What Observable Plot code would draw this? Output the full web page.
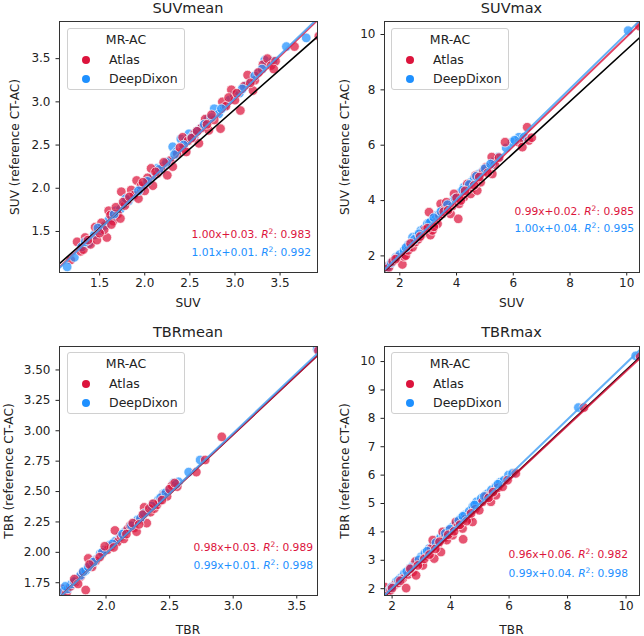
<!DOCTYPE html>
<html><head><meta charset="utf-8">
<script src="https://cdn.jsdelivr.net/npm/d3@7"></script>
<script src="https://cdn.jsdelivr.net/npm/@observablehq/plot@0.6"></script>
<style>
body{margin:0;background:#fff;font-family:"DejaVu Sans",sans-serif;}
#fig{position:relative;width:644px;height:636px;overflow:hidden;}
.panel{position:absolute;width:322px;height:318px;}
.ov{position:absolute;white-space:nowrap;color:#222;line-height:1;}
.title{font-size:14.5px;transform:translate(-50%,-50%);}
.xl{font-size:12.2px;transform:translate(-50%,-50%);}
.yl{font-size:12.2px;transform:translate(-50%,-50%) rotate(-90deg);}
.legend{position:absolute;width:118px;height:62px;border:1px solid #d0d0d0;border-radius:3px;background:rgba(255,255,255,0.85);box-sizing:border-box;font-size:12.5px;color:#222;}
.legend .lt{position:absolute;left:0;right:0;top:10.5px;text-align:center;transform:translateY(-50%);line-height:1;}
.legend .sw{position:absolute;left:14px;width:8px;height:8px;border-radius:50%;transform:translateY(-50%);}
.legend .lab{position:absolute;left:41px;transform:translateY(-50%);line-height:1;}
.ann{position:absolute;font-size:10.7px;white-space:nowrap;line-height:1;transform:translate(-100%,-50%);}
.ann .sup{font-size:7.5px;position:relative;top:-4px;}
</style></head><body><div id="fig"></div><script>
// ---- data ----
const panelTitles = ["SUVmean", "SUVmax", "TBRmean", "TBRmax"];
const xLabels = ["SUV", "SUV", "TBR", "TBR"];
const yLabels = ["SUV (reference CT-AC)", "SUV (reference CT-AC)", "TBR (reference CT-AC)", "TBR (reference CT-AC)"];
const methods = ["Atlas", "DeepDixon"];
const legendTitle = "MR-AC";

const xDomains = [[1.055, 3.915], [1.46, 10.45], [1.634, 3.663], [1.74, 10.46]];
const yDomains = [[1.025, 3.93], [1.40, 10.47], [1.645, 3.693], [1.76, 10.53]];
const xTicks = [[1.5, 2.0, 2.5, 3.0, 3.5], [2, 4, 6, 8, 10], [2.0, 2.5, 3.0, 3.5], [2, 4, 6, 8, 10]];
const yTicks = [[1.5, 2.0, 2.5, 3.0, 3.5], [2, 4, 6, 8, 10], [1.75, 2.0, 2.25, 2.5, 2.75, 3.0, 3.25, 3.5], [2, 3, 4, 5, 6, 7, 8, 9, 10]];
const tickFormats = [".1f", "d", ".1f", "d"];
const yTickFormats = [".1f", "d", ".2f", "d"];

const atlasSlopes = [1.00, 0.99, 0.98, 0.96];
const atlasIntercepts = [0.03, 0.02, 0.03, 0.06];
const atlasR2 = [0.983, 0.985, 0.989, 0.982];
const deepSlopes = [1.01, 1.00, 0.99, 0.99];
const deepIntercepts = [0.01, 0.04, 0.01, 0.04];
const deepR2 = [0.992, 0.995, 0.998, 0.998];
const refSlopes = [0.918, 0.938, 0.98, 0.965];
const refIntercepts = [0.16, 0.08, 0.03, 0.05];

// [MR-AC value, CT-AC reference value]
const suvMeanAtlas = [[1.18,1.17],[1.25,1.38],[1.29,1.27],[1.32,1.29],[1.34,1.43],[1.40,1.35],[1.47,1.40],[1.45,1.55],[1.52,1.60],[1.58,1.43],[1.55,1.52],[1.60,1.74],[1.62,1.69],[1.65,1.62],[1.70,1.70],[1.73,1.65],[1.74,1.96],[1.78,1.80],[1.81,1.86],[1.85,1.98],[1.88,1.92],[1.91,2.09],[1.93,1.88],[1.96,2.03],[2.00,1.97],[2.03,2.12],[2.07,2.23],[2.09,2.03],[2.14,2.17],[2.18,2.22],[2.25,2.15],[2.28,2.32],[2.31,2.25],[2.36,2.40],[2.42,2.59],[2.43,2.46],[2.48,2.55],[2.55,2.63],[2.60,2.52],[2.63,2.70],[2.67,2.80],[2.71,2.67],[2.77,2.79],[2.84,2.69],[2.86,3.00],[2.90,2.95],[2.96,3.14],[3.00,3.02],[3.06,2.90],[3.10,3.18],[3.14,3.31],[3.20,3.13],[3.22,3.25],[3.31,3.43],[3.36,3.50],[3.40,3.42],[3.45,3.47],[3.66,3.64],[3.93,3.76],
  [1.37,1.40],[1.50,1.48],[1.63,1.58],[1.68,1.78],[1.76,1.84],[1.83,1.90],[1.98,2.07],[2.12,2.19],[2.21,2.30],[2.39,2.47],[2.46,2.42],[2.52,2.58],[2.58,2.66],[2.69,2.74],[2.74,2.85],[2.93,3.05],[3.02,3.10],[3.17,3.22],[3.26,3.34],[3.43,3.38]];
const suvMeanDeep = [[1.14,1.09],[1.22,1.20],[1.30,1.32],[1.38,1.36],[1.44,1.46],[1.51,1.51],[1.56,1.57],[1.60,1.63],[1.64,1.66],[1.68,1.74],[1.73,1.76],[1.77,1.82],[1.82,1.85],[1.86,1.90],[1.90,1.95],[1.96,1.99],[2.00,2.04],[2.05,2.09],[2.10,2.15],[2.14,2.23],[2.18,2.20],[2.21,2.26],[2.27,2.31],[2.31,2.48],[2.35,2.42],[2.40,2.57],[2.45,2.55],[2.49,2.63],[2.55,2.60],[2.62,2.69],[2.70,2.80],[2.77,2.92],[2.82,2.86],[2.88,2.94],[2.94,3.02],[2.99,3.08],[3.05,3.10],[3.12,3.19],[3.18,3.24],[3.25,3.33],[3.33,3.48],[3.42,3.47],[3.57,3.64],[3.79,3.74],
  [1.34,1.38],[1.48,1.54],[1.66,1.70],[1.79,1.88],[1.93,1.97],[2.03,2.08],[2.16,2.22],[2.24,2.30],[2.33,2.39],[2.43,2.50],[2.52,2.59],[2.58,2.66],[2.66,2.74],[2.74,2.82],[2.85,2.92],[3.08,3.15],[3.22,3.30],[3.30,3.38]];
const suvMaxAtlas = [[1.55,1.62],[1.62,1.59],[1.75,1.80],[1.92,1.95],[2.09,1.69],[2.15,1.98],[2.21,2.01],[2.30,2.20],[2.45,2.31],[2.55,2.50],[2.65,2.60],[2.80,2.80],[2.90,2.95],[3.03,3.58],[3.08,2.75],[3.15,2.92],[3.25,3.20],[3.33,3.16],[3.40,3.45],[3.44,3.88],[3.50,3.52],[3.58,3.70],[3.64,3.94],[3.79,3.52],[3.85,3.80],[3.91,4.24],[3.98,3.95],[4.06,3.34],[4.09,3.88],[4.20,4.20],[4.26,4.12],[4.38,4.60],[4.50,4.24],[4.55,4.45],[4.67,4.90],[4.73,4.36],[4.85,4.66],[4.95,5.05],[5.03,5.20],[5.24,5.57],[5.26,4.96],[5.35,5.30],[5.71,6.11],[6.20,6.10],[6.32,5.93],[6.49,6.65],[6.55,6.17],[6.65,6.27],[10.45,10.30],
  [1.85,1.88],[2.38,2.45],[2.72,2.70],[2.98,3.00],[3.20,3.05],[3.55,3.60],[3.70,3.65],[4.00,4.10],[4.15,4.00],[4.30,4.35],[4.62,4.55],[4.80,4.85],[5.10,5.00],[5.50,5.55]];
const suvMaxDeep = [[1.57,1.59],[1.70,1.75],[1.86,1.95],[2.00,2.05],[2.15,2.19],[2.30,2.40],[2.45,2.67],[2.60,2.72],[2.74,2.92],[2.85,2.98],[2.97,3.16],[3.10,3.25],[3.27,3.46],[3.38,3.50],[3.50,3.70],[3.62,3.75],[3.74,3.88],[3.88,4.00],[4.03,4.12],[4.15,4.30],[4.26,4.48],[4.38,4.52],[4.50,4.66],[4.62,4.80],[4.79,4.96],[4.92,5.05],[5.09,5.20],[5.30,5.40],[5.47,5.57],[5.75,5.90],[5.96,6.11],[6.20,6.29],[6.38,6.29],[10.05,10.14],
  [2.22,2.30],[2.52,2.60],[2.68,2.80],[3.05,3.20],[3.20,3.38],[3.45,3.60],[3.68,3.85],[3.95,4.08],[4.22,4.38],[4.45,4.58],[4.70,4.88],[5.00,5.15],[5.20,5.32],[6.05,6.18]];
const tbrMeanAtlas = [[1.653,1.70],[1.69,1.67],[1.72,1.72],[1.76,1.755],[1.80,1.80],[1.82,1.84],[1.84,1.69],[1.86,1.95],[1.89,1.88],[1.92,1.93],[1.97,1.99],[2.01,2.02],[2.04,2.05],[2.07,2.18],[2.09,2.085],[2.12,2.13],[2.14,2.11],[2.17,2.19],[2.19,2.22],[2.22,2.20],[2.24,2.17],[2.27,2.27],[2.30,2.37],[2.32,2.24],[2.35,2.33],[2.38,2.36],[2.40,2.39],[2.42,2.42],[2.45,2.47],[2.48,2.46],[2.52,2.55],[2.56,2.54],[2.71,2.66],[2.78,2.76],[2.91,2.95],[3.67,3.66],
  [1.75,1.78],[1.78,1.74],[1.87,1.90],[1.95,1.96],[1.99,2.05],[2.06,2.04],[2.16,2.15],[2.21,2.24],[2.26,2.23],[2.29,2.31],[2.34,2.36],[2.37,2.40],[2.44,2.43],[2.50,2.52],[2.54,2.57]];
const tbrMeanDeep = [[1.666,1.68],[1.70,1.70],[1.73,1.74],[1.77,1.78],[1.80,1.81],[1.84,1.85],[1.88,1.89],[1.92,1.94],[1.955,1.99],[1.99,2.02],[2.03,2.06],[2.07,2.09],[2.11,2.14],[2.15,2.17],[2.18,2.20],[2.22,2.24],[2.25,2.27],[2.28,2.29],[2.32,2.33],[2.35,2.36],[2.38,2.40],[2.41,2.43],[2.45,2.48],[2.49,2.51],[2.53,2.57],[2.57,2.58],[2.65,2.66],[2.74,2.76],[3.66,3.67],
  [1.68,1.72],[1.75,1.76],[1.82,1.84],[1.86,1.88],[1.90,1.92],[1.97,2.00],[2.05,2.07],[2.13,2.15],[2.20,2.22],[2.27,2.28],[2.30,2.32],[2.36,2.38],[2.43,2.45],[2.47,2.49],[2.55,2.56]];
const tbrMaxAtlas = [[1.74,2.06],[1.85,1.76],[1.95,1.95],[2.08,2.12],[2.20,2.20],[2.36,2.35],[2.48,2.02],[2.55,2.50],[2.71,2.59],[2.80,2.96],[2.82,2.47],[2.95,2.90],[3.05,2.82],[3.20,3.15],[3.33,3.41],[3.39,3.71],[3.44,3.06],[3.55,3.50],[3.67,3.29],[3.73,4.00],[3.80,3.80],[3.87,3.71],[3.95,4.05],[4.07,3.88],[4.18,4.35],[4.25,4.20],[4.41,4.12],[4.43,3.74],[4.50,4.45],[4.62,4.47],[4.75,4.35],[4.85,4.80],[4.98,4.76],[5.09,5.06],[5.20,5.25],[5.38,5.06],[5.55,5.29],[5.62,5.55],[5.78,5.59],[5.95,5.82],[6.23,6.06],[8.56,8.38],[10.48,10.18],
  [2.00,2.02],[2.28,2.28],[2.62,2.70],[2.88,2.82],[3.10,3.05],[3.28,3.20],[3.48,3.40],[3.62,3.65],[3.92,3.90],[4.12,4.02],[4.32,4.25],[4.55,4.38],[4.70,4.65],[5.30,5.20],[5.45,5.40]];
const tbrMaxDeep = [[1.91,1.94],[2.05,2.10],[2.14,2.24],[2.30,2.38],[2.42,2.53],[2.58,2.66],[2.71,2.82],[2.85,2.95],[2.99,3.12],[3.12,3.25],[3.27,3.41],[3.42,3.55],[3.56,3.71],[3.66,3.80],[3.75,3.88],[3.90,4.02],[4.07,4.18],[4.20,4.32],[4.35,4.47],[4.50,4.60],[4.64,4.73],[4.76,4.90],[4.89,5.06],[5.05,5.18],[5.27,5.35],[5.40,5.48],[5.55,5.59],[5.70,5.75],[5.83,5.82],[5.98,6.00],[6.12,6.06],[8.37,8.38],[10.33,10.20],
  [1.98,2.05],[2.22,2.30],[2.50,2.60],[2.64,2.74],[2.92,3.02],[3.20,3.32],[3.50,3.62],[3.82,3.95],[3.98,4.10],[4.28,4.40],[4.42,4.55],[4.82,4.95],[5.15,5.25],[5.62,5.68]];

const atlasSets = [suvMeanAtlas, suvMaxAtlas, tbrMeanAtlas, tbrMaxAtlas];
const deepSets = [suvMeanDeep, suvMaxDeep, tbrMeanDeep, tbrMaxDeep];

const colors = {Atlas: "#dc143c", DeepDixon: "#1e90ff"};
const lineColors = {Atlas: "#dc143c", DeepDixon: "#4aa3f5"};

// ---- layout ----
const origins = [[0, 0], [322, 0], [0, 318], [322, 318]];
const mLeft = [59, 62, 59, 62], mTop = [21, 21, 28, 28], mBottom = [46, 46, 41, 41], mRight = 5;
const titleY = [8, 8, 14, 14], xLabelY = [303, 303, 312, 312], yLabelX = [15, 23, 9, 23];
const legendPos = [[67, 28], [69, 28], [67, 34], [69, 34]];
const annRight = [311, 312, 313, 306];
const annY = [[235, 253], [212, 229], [230, 248], [237, 256]];

const fig = document.getElementById("fig");

for (let i = 0; i < 4; i++) {
  const [ox, oy] = origins[i];
  const panel = document.createElement("div");
  panel.className = "panel";
  panel.style.left = ox + "px"; panel.style.top = oy + "px";
  fig.appendChild(panel);

  const pts = [];
  const A = atlasSets[i], D = deepSets[i];
  const n = Math.max(A.length, D.length);
  for (let k = 0; k < n; k++) {
    if (k < A.length) pts.push({mr: A[k][0], ct: A[k][1], method: "Atlas"});
    if (k < D.length) pts.push({mr: D[k][0], ct: D[k][1], method: "DeepDixon"});
  }
  const [x0, x1] = xDomains[i];
  const lineOf = (s, b) => [{x: x0, y: s * x0 + b}, {x: x1, y: s * x1 + b}];

  const svg = Plot.plot({
    width: 322, height: 318,
    marginLeft: mLeft[i], marginRight: mRight, marginTop: mTop[i], marginBottom: mBottom[i],
    style: {fontFamily: "DejaVu Sans, sans-serif", fontSize: "12px", color: "#222", background: "transparent"},
    x: {domain: xDomains[i], ticks: xTicks[i], tickFormat: tickFormats[i], label: null, tickSize: 3.5, tickPadding: 2.5},
    y: {domain: yDomains[i], ticks: yTicks[i], tickFormat: yTickFormats[i], label: null, tickSize: 3.5, tickPadding: 5.5},
    marks: [
      Plot.dot(pts, {x: "mr", y: "ct", r: 4.8, fill: d => colors[d.method], fillOpacity: 0.72, stroke: "white", strokeWidth: 0.7, clip: true}),
      Plot.line(lineOf(refSlopes[i], refIntercepts[i]), {x: "x", y: "y", stroke: "black", strokeWidth: 1.6, clip: true}),
      Plot.line(lineOf(atlasSlopes[i], atlasIntercepts[i]), {x: "x", y: "y", stroke: lineColors.Atlas, strokeOpacity: 0.8, strokeWidth: 2, clip: true}),
      Plot.line(lineOf(deepSlopes[i], deepIntercepts[i]), {x: "x", y: "y", stroke: lineColors.DeepDixon, strokeOpacity: 0.85, strokeWidth: 2, clip: true}),
      Plot.frame({stroke: "#333", strokeWidth: 1})
    ]
  });
  svg.style.position = "absolute"; svg.style.left = "0"; svg.style.top = "0";
  panel.appendChild(svg);

  const frameCx = (mLeft[i] + 322 - mRight) / 2;
  const frameCy = (mTop[i] + 318 - mBottom[i]) / 2;

  const t = document.createElement("div");
  t.className = "ov title"; t.textContent = panelTitles[i];
  t.style.left = frameCx + "px"; t.style.top = titleY[i] + "px";
  panel.appendChild(t);

  const xl = document.createElement("div");
  xl.className = "ov xl"; xl.textContent = xLabels[i];
  xl.style.left = frameCx + "px"; xl.style.top = xLabelY[i] + "px";
  panel.appendChild(xl);

  const yl = document.createElement("div");
  yl.className = "ov yl"; yl.textContent = yLabels[i];
  yl.style.left = yLabelX[i] + "px"; yl.style.top = frameCy + "px";
  panel.appendChild(yl);

  const lg = document.createElement("div");
  lg.className = "legend";
  lg.style.left = legendPos[i][0] + "px"; lg.style.top = legendPos[i][1] + "px";
  let html = `<div class="lt">${legendTitle}</div>`;
  methods.forEach((m, j) => {
    const cy = 31 + j * 19;
    html += `<span class="sw" style="top:${cy}px;background:${colors[m]}"></span><span class="lab" style="top:${cy}px">${m}</span>`;
  });
  lg.innerHTML = html;
  panel.appendChild(lg);

  const anns = [
    [atlasSlopes[i], atlasIntercepts[i], atlasR2[i], colors.Atlas],
    [deepSlopes[i], deepIntercepts[i], deepR2[i], colors.DeepDixon]
  ];
  anns.forEach(([s, b, r2, c], j) => {
    const a = document.createElement("div");
    a.className = "ann";
    a.style.color = c;
    a.style.left = annRight[i] + "px"; a.style.top = annY[i][j] + "px";
    a.innerHTML = `${s.toFixed(2)}x+${b.toFixed(2)}. <i>R</i><span class="sup">2</span>: ${r2.toFixed(3)}`;
    panel.appendChild(a);
  });
}
</script></body></html>
